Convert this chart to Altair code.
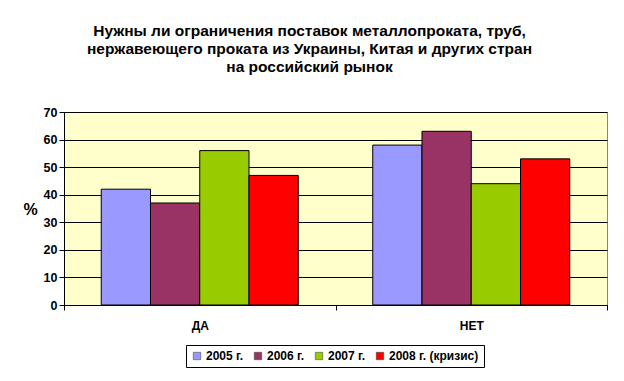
import altair as alt
import pandas as pd

categories = ["ДА", "НЕТ"]
series = ["2005 г.", "2006 г.", "2007 г.", "2008 г. (кризис)"]
values_da = [42, 37, 56, 47]
values_net = [58, 63, 44, 53]
colors = ["#9999FF", "#993366", "#99CC00", "#FF0000"]
title_lines = [
    "Нужны ли ограничения поставок металлопроката, труб,",
    "нержавеющего проката из Украины, Китая и других стран",
    "на российский рынок",
]

rows = []
for cat, vals in zip(categories, [values_da, values_net]):
    for s, v in zip(series, vals):
        rows.append({"cat": cat, "series": s, "value": v})
df = pd.DataFrame(rows)

FONT = "Liberation Sans"

chart = alt.Chart(df).mark_bar(stroke="black", strokeWidth=1).encode(
    x=alt.X("cat:N", sort=categories, title=None,
            scale=alt.Scale(paddingInner=0, paddingOuter=0),
            axis=alt.Axis(labelAngle=0, tickBand="extent", labelFontWeight="bold",
                          labelFontSize=12, labelFont=FONT, labelColor="black",
                          domainColor="black", tickColor="black", tickSize=5,
                          labelPadding=10)),
    xOffset=alt.XOffset("series:N", sort=series,
                        scale=alt.Scale(paddingInner=0, paddingOuter=0.756)),
    y=alt.Y("value:Q", title="%", scale=alt.Scale(domain=[0, 70]),
            axis=alt.Axis(values=list(range(0, 71, 10)), grid=True, gridColor="black",
                          gridOpacity=1, gridWidth=1, labelFontWeight="bold",
                          labelFontSize=12.5, labelFont=FONT, labelColor="black",
                          domainColor="black", tickColor="black", tickSize=5,
                          titleAngle=0, titleFontSize=16, titleFont=FONT,
                          titleFontWeight="bold", titleColor="black",
                          titleX=-34, titleY=105, titleAlign="center")),
    color=alt.Color("series:N", sort=series, title=None,
                    scale=alt.Scale(domain=series, range=colors),
                    legend=alt.Legend(orient="none", legendX=122, legendY=233,
                                      direction="horizontal", symbolType="square",
                                      symbolSize=55, symbolStrokeColor="#333",
                                      symbolStrokeWidth=0.5, labelFont=FONT,
                                      labelFontSize=12, labelFontWeight="bold",
                                      labelColor="black", strokeColor="black",
                                      padding=5, columnPadding=8, labelOffset=3,
                                      fillColor="white")),
).properties(
    width=543, height=193,
    title=alt.TitleParams(title_lines, font=FONT, fontSize=15.5, fontWeight="bold",
                          color="black", lineHeight=18, anchor="middle", dx=-26,
                          offset=31),
    padding={"left": 56, "top": 104, "right": 9, "bottom": 68},
    autosize=alt.AutoSizeParams(type="none"),
).configure(
    background="white"
).configure_view(
    fill="#FFFFCC", stroke="#8a8a70", strokeWidth=1
)

chart.save("out.html", embed_options={"renderer": "svg", "actions": False})
